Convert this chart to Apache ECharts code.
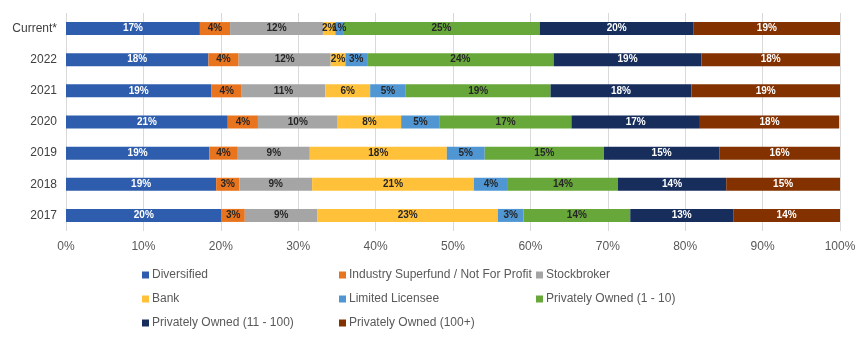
<!DOCTYPE html>
<html>
<head>
<meta charset="utf-8">
<script src="https://cdn.jsdelivr.net/npm/echarts@6/dist/echarts.min.js"></script>
<style>
  html, body { margin: 0; padding: 0; background: #fff; }
  #chart { width: 868px; height: 342px; }
</style>
</head>
<body>
<div id="chart"></div>
<script>
// Periods shown top to bottom
const categories = ['Current*', '2022', '2021', '2020', '2019', '2018', '2017'];

// Share of each licensee type per period (%)
const diversified     = [17.3, 18.4, 18.8, 20.9, 18.5, 19.4, 20.1];
const industryFund    = [3.9, 3.9, 3.9, 3.9, 3.7, 3.0, 3.0];
const stockbroker     = [12.0, 11.9, 10.8, 10.3, 9.3, 9.4, 9.4];
const bank            = [1.6, 1.9, 5.8, 8.2, 17.7, 20.9, 23.3];
const limitedLicensee = [1.0, 2.8, 4.6, 5.0, 4.9, 4.4, 3.3];
const owned1to10      = [25.4, 24.1, 18.7, 17.0, 15.4, 14.2, 13.8];
const owned11to100    = [19.9, 19.1, 18.2, 16.6, 14.9, 14.0, 13.3];
const owned100plus    = [18.9, 18.0, 19.3, 18.0, 15.6, 14.9, 13.8];

const xTicks = [0, 10, 20, 30, 40, 50, 60, 70, 80, 90, 100];

const seriesDefs = [
  { name: 'Diversified', data: diversified, color: '#2F5DAE', label: '#ffffff' },
  { name: 'Industry Superfund / Not For Profit', data: industryFund, color: '#E8741E', label: '#262626' },
  { name: 'Stockbroker', data: stockbroker, color: '#A5A5A5', label: '#262626' },
  { name: 'Bank', data: bank, color: '#FFC03A', label: '#262626' },
  { name: 'Limited Licensee', data: limitedLicensee, color: '#5096D3', label: '#262626' },
  { name: 'Privately Owned (1 - 10)', data: owned1to10, color: '#68A83B', label: '#262626' },
  { name: 'Privately Owned (11 - 100)', data: owned11to100, color: '#172E5C', label: '#ffffff' },
  { name: 'Privately Owned (100+)', data: owned100plus, color: '#843100', label: '#ffffff' }
];

const FONT = 'Liberation Sans';

// Legend laid out as a 3-column grid
const legendSlots = [
  [142, 269], [339, 269], [536, 269],
  [142, 293], [339, 293], [536, 293],
  [142, 317], [339, 317]
];

const legends = seriesDefs.map((s, i) => ({
  data: [s.name],
  left: legendSlots[i][0],
  top: legendSlots[i][1],
  orient: 'horizontal',
  itemWidth: 7,
  itemHeight: 7,
  icon: 'rect',
  padding: 0,
  selectedMode: false,
  textStyle: { fontFamily: FONT, fontSize: 12, color: '#595959', padding: [0, 0, 0, -2] }
}));

const chart = echarts.init(document.getElementById('chart'), null, { renderer: 'canvas' });

chart.setOption({
  animation: false,
  color: seriesDefs.map(s => s.color),
  legend: legends,
  grid: { left: 66, right: 28, top: 13, bottom: 111, containLabel: false },
  xAxis: {
    type: 'value',
    min: 0,
    max: 100,
    interval: 10,
    axisLine: { show: false },
    axisTick: { show: false },
    splitLine: { show: true, lineStyle: { color: '#D9D9D9', width: 1 } },
    axisLabel: {
      fontFamily: FONT, fontSize: 12, color: '#595959', margin: 10,
      formatter: v => (xTicks.includes(v) ? v + '%' : '')
    }
  },
  yAxis: {
    type: 'category',
    data: categories,
    inverse: true,
    axisLine: { show: false },
    axisTick: { show: false },
    axisLabel: { fontFamily: FONT, fontSize: 12, color: '#404040', margin: 9 }
  },
  series: seriesDefs.map(s => ({
    name: s.name,
    type: 'bar',
    stack: 'total',
    barWidth: 13,
    data: s.data,
    itemStyle: { color: s.color },
    label: {
      show: true,
      position: 'inside',
      fontFamily: FONT,
      fontSize: 10,
      fontWeight: 'bold',
      color: s.label,
      formatter: p => Math.round(p.value) + '%'
    }
  }))
});
</script>
</body>
</html>
